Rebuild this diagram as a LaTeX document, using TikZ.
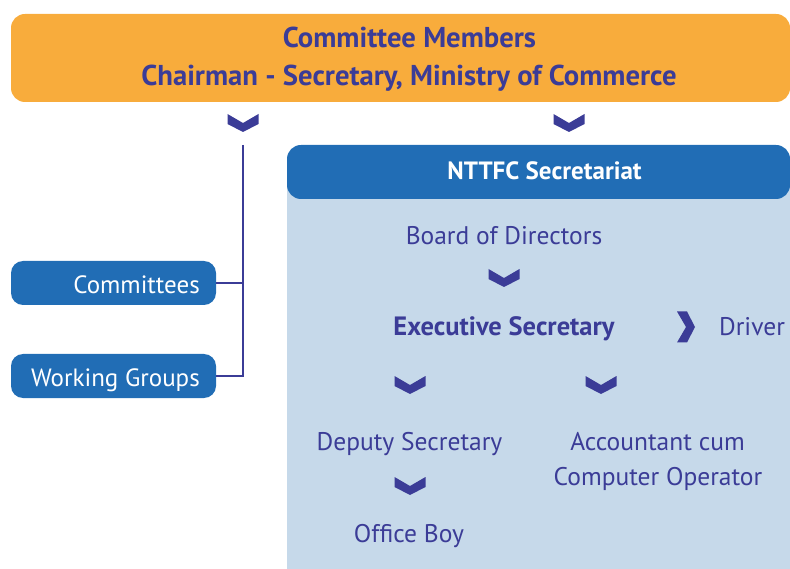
\documentclass[tikz,border=0pt]{standalone}
\usepackage{fontspec}
\setmainfont{PT Sans}
\definecolor{ink}{HTML}{3B3C97}
\definecolor{orng}{HTML}{F8AC3C}
\definecolor{dblue}{HTML}{216DB5}
\definecolor{lblue}{HTML}{C6D9EA}
\tikzset{
  conn/.style={draw=ink, line width=2pt},
  lbl/.style={inner sep=0pt, anchor=base, text=ink, font=\fontsize{25.5}{30}\selectfont},
  blbl/.style={lbl, font=\fontsize{26.5}{30}\selectfont\bfseries},
  toplbl/.style={inner sep=0pt, anchor=base, text=ink, font=\fontsize{28.7}{34}\selectfont\bfseries},
  sidebox/.style={fill=dblue, rounded corners=12pt, minimum width=205pt, minimum height=44pt, inner sep=0pt},
  sidelbl/.style={inner sep=0pt, anchor=base east, text=white, font=\fontsize{25}{30}\selectfont},
  chevd/.pic={\fill[ink] (-15.5,-9) -- (0,0) -- (15.5,-9) -- (15.5,1) -- (0,9) -- (-15.5,1) -- cycle;},
  chevr/.pic={\fill[ink] (-9,-15.5) -- (0,0) -- (-9,15.5) -- (1,15.5) -- (9,0) -- (1,-15.5) -- cycle;}
}
\begin{document}
\begin{tikzpicture}[x=1pt,y=-1pt]
\useasboundingbox (0,0) rectangle (790,569);
% top bar
\node[fill=orng, rounded corners=14pt, minimum width=779pt, minimum height=88pt, inner sep=0pt] (bar) at (400.5,58) {};
\node[toplbl] (cm1) at (409.5,48) {Committee Members};
\node[toplbl] (cm2) at (409,86) {Chairman - Secretary, Ministry of Commerce};
% chevrons under bar
\pic at (243,123) {chevd};
\pic at (569,123) {chevd};
% secretariat panel
\fill[lblue] (287,175) rectangle (790,569);
\node[fill=dblue, rounded corners=14pt, minimum width=503pt, minimum height=54pt, inner sep=0pt] (sec) at (538.5,172) {};
\node[inner sep=0pt, anchor=base, text=white, font=\fontsize{25}{30}\selectfont\bfseries] (sect) at (544.5,180) {NTTFC Secretariat};
% side boxes
\node[sidebox] (comm) at (113.5,283) {};
\node[sidelbl] (commt) at (200,294) {Committees};
\node[sidebox] (wg) at (113.5,376) {};
\node[sidelbl] (wgt) at (200,386) {Working Groups};
\coordinate (spTop) at (243,145);
\draw[conn] (spTop) |- (wg.east);
\draw[conn] (comm.east) -- (comm.east -| spTop);
% inside panel
\node[lbl] (bod) at (504,245) {Board of Directors};
\pic at (504,278) {chevd};
\node[blbl] (es) at (504,336) {Executive Secretary};
\pic at (686,327) {chevr};
\node[lbl] (drv) at (752,336) {Driver};
\pic at (410,385) {chevd};
\pic at (601,385) {chevd};
\node[lbl] (dep) at (409.5,450) {Deputy Secretary};
\node[lbl] (acc1) at (657.5,450) {Accountant cum};
\node[lbl] (acc2) at (658,485) {Computer Operator};
\pic at (410,486) {chevd};
\node[lbl] (ob) at (409,542) {Office Boy};
\end{tikzpicture}
\end{document}
